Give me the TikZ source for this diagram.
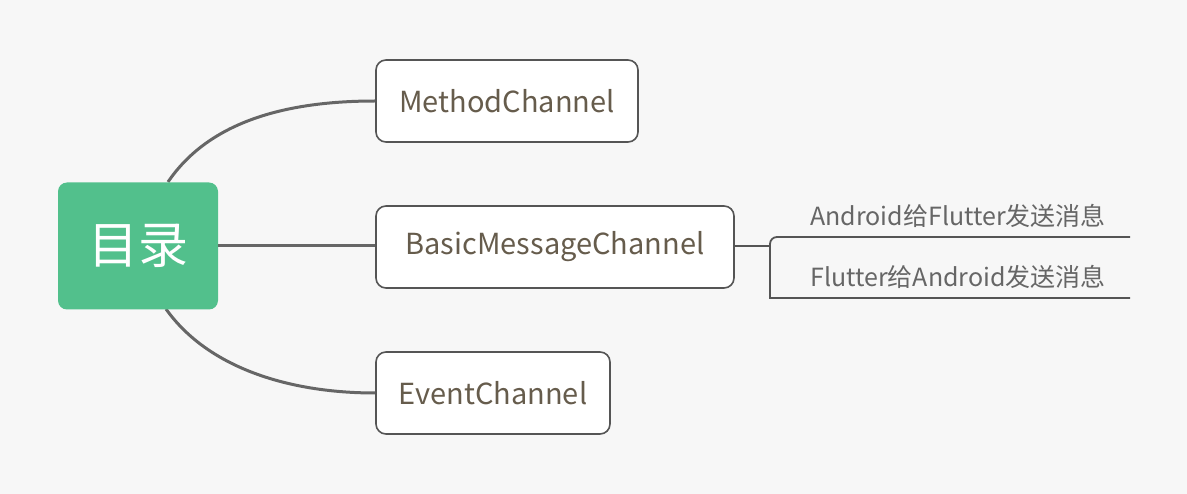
\documentclass[tikz,border=0pt]{standalone}
\usepackage{fontspec}
\usetikzlibrary{calc}
\setmainfont{Noto Sans CJK SC}
\definecolor{bg}{HTML}{F7F7F7}
\definecolor{rootgreen}{HTML}{52C08C}
\definecolor{boxline}{HTML}{555555}
\definecolor{boxtext}{HTML}{665C4C}
\definecolor{subtext}{HTML}{666666}
\definecolor{conncol}{HTML}{666666}
\begin{document}
\begin{tikzpicture}[x=1pt,y=-1pt,
  rootbox/.style={fill=rootgreen,draw=none,rounded corners=9pt,minimum width=160pt,minimum height=127pt,text=white,font=\fontsize{50}{54}\selectfont,inner sep=0pt},
  chbox/.style={fill=white,draw=boxline,line width=1.6pt,rounded corners=10pt,minimum height=82pt,text=boxtext,font=\fontsize{29}{33}\selectfont,inner sep=0pt},
  conn/.style={draw=conncol,line width=3pt},
  subconn/.style={draw=boxline,line width=1.8pt},
  sublabel/.style={text=subtext,font=\fontsize{25}{29}\selectfont,inner sep=0pt}]
\fill[bg] (0,0) rectangle (1187,494);
\useasboundingbox (0,0) rectangle (1187,494);
\coordinate (rt) at (168,182);
\coordinate (rb) at (166,309);
\coordinate (rtc) at (210,120);
\coordinate (rbc) at (208,368);
\node[chbox,minimum width=262pt] (m) at (507,101) {MethodChannel};
\node[chbox,minimum width=358pt] (b) at (555,247) {BasicMessageChannel};
\node[chbox,minimum width=234pt] (e) at (493,393) {EventChannel};
\draw[conn] (rt) .. controls (rtc) and ($(m.west)+(-86,0)$) .. (m.west);
\draw[conn] (rb) .. controls (rbc) and ($(e.west)+(-86,0)$) .. (e.west);
\node[rootbox] (root) at (138,246) {目录};
\draw[conn] (root.east) -- (root.east -| b.west);
\coordinate (j) at (770,246);
\coordinate (t1) at (1130,237);
\coordinate (t2) at (1130,298);
\draw[subconn] (b.east |- j) -- (j);
\draw[subconn] (t1) [rounded corners=7pt] -- (t1 -| j) [sharp corners] -- (t2 -| j) -- (t2);
\node[sublabel] (s1) at (958,216) {Android给Flutter发送消息};
\node[sublabel] (s2) at (958,277) {Flutter给Android发送消息};
\end{tikzpicture}
\end{document}
